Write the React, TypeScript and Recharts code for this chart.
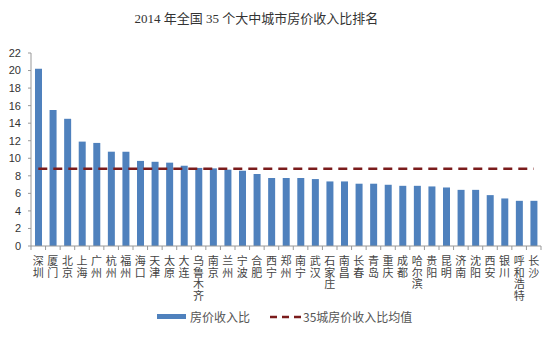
import React from 'react';
import { ComposedChart, Bar, Line, XAxis, YAxis } from 'recharts';

const cities = [
  '深圳', '厦门', '北京', '上海', '广州', '杭州', '福州', '海口', '天津', '太原',
  '大连', '乌鲁木齐', '南京', '兰州', '宁波', '合肥', '西宁', '郑州', '南宁', '武汉',
  '石家庄', '南昌', '长春', '青岛', '重庆', '成都', '哈尔滨', '贵阳', '昆明', '济南',
  '沈阳', '西安', '银川', '呼和浩特', '长沙',
];
const ratios = [
  20.2, 15.5, 14.5, 11.9, 11.75, 10.75, 10.75, 9.7, 9.6, 9.5,
  9.15, 8.9, 8.85, 8.7, 8.58, 8.2, 7.75, 7.75, 7.75, 7.63,
  7.36, 7.36, 7.1, 7.1, 6.98, 6.86, 6.86, 6.79, 6.67, 6.4,
  6.4, 5.8, 5.42, 5.15, 5.15,
];
const average = 8.8;
const yTicks = [0, 2, 4, 6, 8, 10, 12, 14, 16, 18, 20, 22];

const data = cities.map((city, i) => ({ city, ratio: ratios[i], avg: average }));

const W = 549;
const H = 348;
const LEFT = 31;
const RIGHT = 8;
const band = (W - LEFT - RIGHT) / cities.length;

const CityTick = (props: any) => {
  const { x, y, payload, index } = props;
  const chars = String(payload.value).split('');
  return (
    <g>
      <line x1={x - band / 2} y1={y} x2={x - band / 2} y2={y + 4} stroke="#999" />
      {index === cities.length - 1 && (
        <line x1={x + band / 2} y1={y} x2={x + band / 2} y2={y + 4} stroke="#999" />
      )}
      <text x={x} y={y + 19} textAnchor="middle" fontSize={11} fill="#444"
        fontFamily='"Noto Sans CJK SC", sans-serif'>
        {chars.map((c, i) => (
          <tspan key={i} x={x} dy={i === 0 ? 0 : 11.7}>{c}</tspan>
        ))}
      </text>
    </g>
  );
};

export default function App() {
  return (
    <div style={{ position: 'absolute', left: 0, top: 0, width: W, height: H, background: '#fff' }}>
      <div style={{
        position: 'absolute', left: 0, top: 8, width: 513, textAlign: 'center',
        fontSize: 13, color: '#333', fontFamily: '"Liberation Serif", "Noto Sans CJK SC", serif',
      }}>
        2014 年全国 35 个大中城市房价收入比排名
      </div>
      <ComposedChart width={W} height={H} data={data}
        margin={{ top: 53, right: RIGHT, bottom: 42, left: 0 }}>
        <XAxis dataKey="city" interval={0} height={60} tickSize={0} tickMargin={0}
          tickLine={false} axisLine={{ stroke: '#999' }} tick={<CityTick />} />
        <YAxis domain={[0, 22]} ticks={yTicks} width={LEFT} tickSize={3} tickMargin={7}
          axisLine={{ stroke: '#999' }} tickLine={{ stroke: '#999' }}
          tick={{ fontSize: 11, fill: '#333', fontFamily: '"Liberation Sans", sans-serif' }} />
        <Bar dataKey="ratio" name="房价收入比" fill="#4F81BD" barSize={7} isAnimationActive={false} />
        <Line dataKey="avg" name="35城房价收入比均值" stroke="#7B1C1C" strokeWidth={2.5}
          strokeDasharray="9 6" dot={false} activeDot={false} isAnimationActive={false} />
      </ComposedChart>
      <div style={{
        position: 'absolute', left: 157, top: 308, display: 'flex', alignItems: 'center',
        fontSize: 12, color: '#555', fontFamily: '"Noto Sans CJK SC", sans-serif',
      }}>
        <span style={{ display: 'inline-block', width: 29, height: 5, background: '#4F81BD', marginRight: 4 }} />
        <span>房价收入比</span>
        <svg width={33} height={6} style={{ marginLeft: 20 }}>
          <line x1={0} y1={3} x2={33} y2={3} stroke="#7B1C1C" strokeWidth={2.5} strokeDasharray="7 5" />
        </svg>
        <span>35城房价收入比均值</span>
      </div>
    </div>
  );
}
